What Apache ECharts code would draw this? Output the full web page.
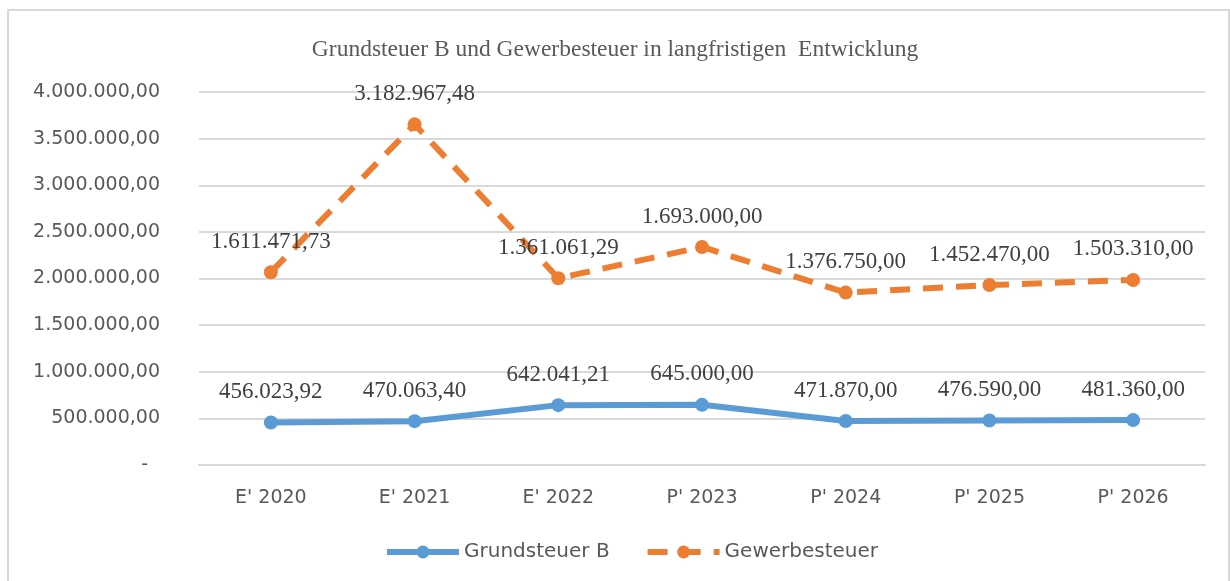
<!DOCTYPE html>
<html><head><meta charset="utf-8">
<script src="https://cdn.jsdelivr.net/npm/echarts@6/dist/echarts.min.js"></script>
<style>html,body{margin:0;padding:0;background:#fff}#c{width:1230px;height:581px}</style>
</head><body><div id="c"></div>
<script>
const categories = ["E' 2020","E' 2021","E' 2022","P' 2023","P' 2024","P' 2025","P' 2026"];
const grundsteuerB = [456023.92, 470063.40, 642041.21, 645000.00, 471870.00, 476590.00, 481360.00];
const gewerbesteuer = [1611471.73, 3182967.48, 1361061.29, 1693000.00, 1376750.00, 1452470.00, 1503310.00];
const seriesNames = ['Grundsteuer B', 'Gewerbesteuer'];
const yMax = 4000000, yStep = 500000;

function fmt(v){
  const neg = v < 0; v = Math.abs(v);
  let s = v.toFixed(2);
  let [i, d] = s.split('.');
  i = i.replace(/\B(?=(\d{3})+(?!\d))/g, '.');
  return (neg ? '-' : '') + i + ',' + d;
}

const chart = echarts.init(document.getElementById('c'));
const labelStyle = {show:true, position:'top', distance:12, fontFamily:'Liberation Serif', fontSize:23, color:'#404040', formatter:p=>fmt(p.value)};
const sansTxt = {fontFamily:'DejaVu Sans', fontSize:19, color:'#595959'};
chart.setOption({
  animation:false,
  graphic:[{type:'rect', shape:{x:8,y:10,width:1221,height:575}, style:{fill:'none', stroke:'#d9d9d9', lineWidth:2}, silent:true}],
  title:{text:'Grundsteuer B und Gewerbesteuer in langfristigen  Entwicklung', left:'center', top:33,
    textStyle:{fontFamily:'Liberation Serif', fontSize:23.5, fontWeight:'normal', color:'#595959'}},
  legend:{bottom:19, left:384, padding:0, itemWidth:72, itemHeight:16, itemGap:35,
    lineStyle:{width:6}, textStyle:{fontFamily:'DejaVu Sans', fontSize:20, color:'#595959'}, data:seriesNames},
  grid:{left:199, right:25, top:92, bottom:116},
  xAxis:{type:'category', data:categories, boundaryGap:true,
    axisLine:{lineStyle:{color:'#d9d9d9', width:2}}, axisTick:{show:false},
    axisLabel:Object.assign({margin:24}, sansTxt)},
  yAxis:{type:'value', min:0, max:yMax, interval:yStep,
    axisLine:{show:false}, axisTick:{show:false},
    splitLine:{lineStyle:{color:'#d9d9d9', width:2}},
    axisLabel:Object.assign({margin:39,
      formatter:v=> v===0 ? '{z|-}' : fmt(v),
      rich:{z:Object.assign({padding:[0,12,0,0]}, sansTxt)}}, sansTxt)},
  series:[
    {name:seriesNames[0], type:'line', stack:'total', data:grundsteuerB, symbol:'circle', symbolSize:14,
      lineStyle:{color:'#5B9BD5', width:6}, itemStyle:{color:'#5B9BD5'}, label:labelStyle},
    {name:seriesNames[1], type:'line', stack:'total', data:gewerbesteuer, symbol:'circle', symbolSize:14,
      lineStyle:{color:'#ED7D31', width:6, type:[20,13]}, itemStyle:{color:'#ED7D31'}, label:labelStyle}
  ]
});
</script></body></html>
